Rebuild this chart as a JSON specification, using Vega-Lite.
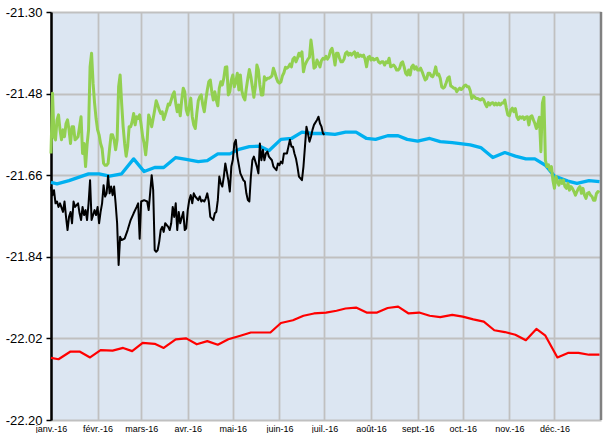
{
"$schema":"https://vega.github.io/schema/vega-lite/v6.json",
"width":550,"height":408,
"autosize":{"type":"none"},
"padding":{"left":51,"top":12,"right":2,"bottom":13},
"background":"white",
"config":{"view":{"fill":"#dce6f2","stroke":null}},
"datasets":{
"red":[
{"d":"2016-01-01","v":-22.063},{"d":"2016-01-06","v":-22.066},{"d":"2016-01-14","v":-22.049},{"d":"2016-01-20","v":-22.049},{"d":"2016-01-27","v":-22.062},{"d":"2016-02-03","v":-22.046},{"d":"2016-02-11","v":-22.047},{"d":"2016-02-18","v":-22.041},{"d":"2016-02-24","v":-22.048},{"d":"2016-03-02","v":-22.030},{"d":"2016-03-10","v":-22.032},{"d":"2016-03-16","v":-22.041},{"d":"2016-03-24","v":-22.022},{"d":"2016-03-31","v":-22.020},{"d":"2016-04-07","v":-22.033},{"d":"2016-04-14","v":-22.026},{"d":"2016-04-21","v":-22.034},{"d":"2016-04-28","v":-22.022},{"d":"2016-05-06","v":-22.014},{"d":"2016-05-13","v":-22.007},{"d":"2016-05-26","v":-22.007},{"d":"2016-06-02","v":-21.986},{"d":"2016-06-10","v":-21.980},{"d":"2016-06-17","v":-21.970},{"d":"2016-06-24","v":-21.965},{"d":"2016-07-02","v":-21.963},{"d":"2016-07-09","v":-21.959},{"d":"2016-07-15","v":-21.954},{"d":"2016-07-22","v":-21.952},{"d":"2016-07-29","v":-21.963},{"d":"2016-08-05","v":-21.963},{"d":"2016-08-12","v":-21.953},{"d":"2016-08-19","v":-21.950},{"d":"2016-08-26","v":-21.965},{"d":"2016-09-02","v":-21.963},{"d":"2016-09-09","v":-21.970},{"d":"2016-09-16","v":-21.973},{"d":"2016-09-24","v":-21.968},{"d":"2016-10-01","v":-21.972},{"d":"2016-10-08","v":-21.978},{"d":"2016-10-15","v":-21.983},{"d":"2016-10-22","v":-22.002},{"d":"2016-10-29","v":-22.006},{"d":"2016-11-05","v":-22.012},{"d":"2016-11-12","v":-22.024},{"d":"2016-11-19","v":-21.999},{"d":"2016-11-25","v":-22.014},{"d":"2016-12-03","v":-22.062},{"d":"2016-12-10","v":-22.052},{"d":"2016-12-17","v":-22.052},{"d":"2016-12-24","v":-22.056},{"d":"2016-12-31","v":-22.056}],
"cyan":[
{"d":"2016-01-01","v":-21.676},{"d":"2016-01-05","v":-21.679},{"d":"2016-01-13","v":-21.672},{"d":"2016-01-26","v":-21.657},{"d":"2016-02-02","v":-21.657},{"d":"2016-02-09","v":-21.662},{"d":"2016-02-17","v":-21.657},{"d":"2016-02-25","v":-21.624},{"d":"2016-03-03","v":-21.652},{"d":"2016-03-10","v":-21.643},{"d":"2016-03-16","v":-21.643},{"d":"2016-03-24","v":-21.621},{"d":"2016-03-31","v":-21.625},{"d":"2016-04-08","v":-21.630},{"d":"2016-04-14","v":-21.628},{"d":"2016-04-21","v":-21.613},{"d":"2016-04-29","v":-21.613},{"d":"2016-05-05","v":-21.603},{"d":"2016-05-12","v":-21.597},{"d":"2016-05-19","v":-21.596},{"d":"2016-05-25","v":-21.606},{"d":"2016-06-02","v":-21.581},{"d":"2016-06-09","v":-21.579},{"d":"2016-06-16","v":-21.565},{"d":"2016-06-23","v":-21.568},{"d":"2016-07-01","v":-21.568},{"d":"2016-07-08","v":-21.570},{"d":"2016-07-15","v":-21.565},{"d":"2016-07-22","v":-21.565},{"d":"2016-07-29","v":-21.579},{"d":"2016-08-04","v":-21.581},{"d":"2016-08-12","v":-21.573},{"d":"2016-08-19","v":-21.573},{"d":"2016-08-25","v":-21.581},{"d":"2016-09-01","v":-21.585},{"d":"2016-09-09","v":-21.579},{"d":"2016-09-16","v":-21.586},{"d":"2016-09-24","v":-21.588},{"d":"2016-10-06","v":-21.593},{"d":"2016-10-13","v":-21.599},{"d":"2016-10-21","v":-21.621},{"d":"2016-10-29","v":-21.610},{"d":"2016-11-05","v":-21.618},{"d":"2016-11-12","v":-21.624},{"d":"2016-11-18","v":-21.624},{"d":"2016-11-25","v":-21.638},{"d":"2016-12-01","v":-21.662},{"d":"2016-12-10","v":-21.673},{"d":"2016-12-16","v":-21.678},{"d":"2016-12-24","v":-21.672},{"d":"2016-12-31","v":-21.674}],
"black":[
{"d":"2016-01-01","v":-21.685},{"d":"2016-01-02","v":-21.704},{"d":"2016-01-03","v":-21.693},{"d":"2016-01-04","v":-21.722},{"d":"2016-01-05","v":-21.718},{"d":"2016-01-06","v":-21.730},{"d":"2016-01-07","v":-21.722},{"d":"2016-01-09","v":-21.741},{"d":"2016-01-10","v":-21.718},{"d":"2016-01-11","v":-21.752},{"d":"2016-01-12","v":-21.781},{"d":"2016-01-13","v":-21.752},{"d":"2016-01-14","v":-21.741},{"d":"2016-01-15","v":-21.766},{"d":"2016-01-16","v":-21.718},{"d":"2016-01-17","v":-21.730},{"d":"2016-01-19","v":-21.722},{"d":"2016-01-20","v":-21.744},{"d":"2016-01-21","v":-21.759},{"d":"2016-01-22","v":-21.730},{"d":"2016-01-23","v":-21.748},{"d":"2016-01-24","v":-21.737},{"d":"2016-01-25","v":-21.759},{"d":"2016-01-26","v":-21.722},{"d":"2016-01-27","v":-21.671},{"d":"2016-01-28","v":-21.759},{"d":"2016-01-30","v":-21.737},{"d":"2016-01-31","v":-21.748},{"d":"2016-02-01","v":-21.730},{"d":"2016-02-02","v":-21.766},{"d":"2016-02-03","v":-21.741},{"d":"2016-02-04","v":-21.722},{"d":"2016-02-05","v":-21.682},{"d":"2016-02-06","v":-21.707},{"d":"2016-02-07","v":-21.700},{"d":"2016-02-08","v":-21.661},{"d":"2016-02-09","v":-21.700},{"d":"2016-02-10","v":-21.685},{"d":"2016-02-11","v":-21.704},{"d":"2016-02-12","v":-21.685},{"d":"2016-02-13","v":-21.722},{"d":"2016-02-14","v":-21.766},{"d":"2016-02-15","v":-21.858},{"d":"2016-02-16","v":-21.796},{"d":"2016-02-17","v":-21.803},{"d":"2016-02-19","v":-21.800},{"d":"2016-02-21","v":-21.781},{"d":"2016-02-23","v":-21.759},{"d":"2016-02-25","v":-21.744},{"d":"2016-02-27","v":-21.730},{"d":"2016-02-28","v":-21.722},{"d":"2016-02-29","v":-21.800},{"d":"2016-03-01","v":-21.718},{"d":"2016-03-03","v":-21.715},{"d":"2016-03-05","v":-21.718},{"d":"2016-03-06","v":-21.737},{"d":"2016-03-08","v":-21.660},{"d":"2016-03-09","v":-21.693},{"d":"2016-03-10","v":-21.825},{"d":"2016-03-11","v":-21.829},{"d":"2016-03-12","v":-21.825},{"d":"2016-03-13","v":-21.807},{"d":"2016-03-14","v":-21.781},{"d":"2016-03-15","v":-21.774},{"d":"2016-03-16","v":-21.785},{"d":"2016-03-17","v":-21.766},{"d":"2016-03-19","v":-21.774},{"d":"2016-03-20","v":-21.781},{"d":"2016-03-21","v":-21.766},{"d":"2016-03-22","v":-21.730},{"d":"2016-03-23","v":-21.752},{"d":"2016-03-24","v":-21.722},{"d":"2016-03-25","v":-21.781},{"d":"2016-03-26","v":-21.741},{"d":"2016-03-27","v":-21.766},{"d":"2016-03-29","v":-21.741},{"d":"2016-03-30","v":-21.781},{"d":"2016-03-31","v":-21.777},{"d":"2016-04-01","v":-21.737},{"d":"2016-04-02","v":-21.715},{"d":"2016-04-03","v":-21.704},{"d":"2016-04-04","v":-21.722},{"d":"2016-04-05","v":-21.700},{"d":"2016-04-06","v":-21.707},{"d":"2016-04-08","v":-21.715},{"d":"2016-04-09","v":-21.707},{"d":"2016-04-10","v":-21.718},{"d":"2016-04-11","v":-21.715},{"d":"2016-04-12","v":-21.718},{"d":"2016-04-13","v":-21.711},{"d":"2016-04-14","v":-21.700},{"d":"2016-04-15","v":-21.718},{"d":"2016-04-16","v":-21.752},{"d":"2016-04-18","v":-21.759},{"d":"2016-04-19","v":-21.744},{"d":"2016-04-20","v":-21.741},{"d":"2016-04-21","v":-21.715},{"d":"2016-04-22","v":-21.663},{"d":"2016-04-23","v":-21.678},{"d":"2016-04-24","v":-21.685},{"d":"2016-04-25","v":-21.663},{"d":"2016-04-26","v":-21.634},{"d":"2016-04-28","v":-21.671},{"d":"2016-04-29","v":-21.696},{"d":"2016-04-30","v":-21.641},{"d":"2016-05-01","v":-21.626},{"d":"2016-05-02","v":-21.590},{"d":"2016-05-03","v":-21.582},{"d":"2016-05-04","v":-21.619},{"d":"2016-05-06","v":-21.656},{"d":"2016-05-07","v":-21.663},{"d":"2016-05-08","v":-21.671},{"d":"2016-05-09","v":-21.674},{"d":"2016-05-10","v":-21.700},{"d":"2016-05-11","v":-21.715},{"d":"2016-05-12","v":-21.718},{"d":"2016-05-13","v":-21.663},{"d":"2016-05-14","v":-21.627},{"d":"2016-05-15","v":-21.619},{"d":"2016-05-17","v":-21.641},{"d":"2016-05-18","v":-21.656},{"d":"2016-05-19","v":-21.590},{"d":"2016-05-20","v":-21.627},{"d":"2016-05-21","v":-21.604},{"d":"2016-05-22","v":-21.627},{"d":"2016-05-23","v":-21.612},{"d":"2016-05-24","v":-21.608},{"d":"2016-05-25","v":-21.619},{"d":"2016-05-27","v":-21.627},{"d":"2016-05-28","v":-21.641},{"d":"2016-05-29","v":-21.645},{"d":"2016-05-30","v":-21.649},{"d":"2016-05-31","v":-21.634},{"d":"2016-06-01","v":-21.638},{"d":"2016-06-02","v":-21.630},{"d":"2016-06-03","v":-21.634},{"d":"2016-06-04","v":-21.612},{"d":"2016-06-06","v":-21.612},{"d":"2016-06-07","v":-21.597},{"d":"2016-06-08","v":-21.582},{"d":"2016-06-09","v":-21.597},{"d":"2016-06-10","v":-21.597},{"d":"2016-06-11","v":-21.612},{"d":"2016-06-12","v":-21.623},{"d":"2016-06-13","v":-21.641},{"d":"2016-06-14","v":-21.663},{"d":"2016-06-16","v":-21.671},{"d":"2016-06-17","v":-21.641},{"d":"2016-06-18","v":-21.597},{"d":"2016-06-19","v":-21.553},{"d":"2016-06-20","v":-21.568},{"d":"2016-06-21","v":-21.586},{"d":"2016-06-22","v":-21.575},{"d":"2016-06-23","v":-21.560},{"d":"2016-06-24","v":-21.549},{"d":"2016-06-26","v":-21.538},{"d":"2016-06-27","v":-21.531},{"d":"2016-06-28","v":-21.546},{"d":"2016-06-29","v":-21.553},{"d":"2016-06-30","v":-21.568},{"d":"2016-07-01","v":-21.571}],
"green":[
{"d":"2016-01-01","v":-21.612},{"d":"2016-01-02","v":-21.479},{"d":"2016-01-03","v":-21.575},{"d":"2016-01-04","v":-21.582},{"d":"2016-01-05","v":-21.538},{"d":"2016-01-06","v":-21.527},{"d":"2016-01-07","v":-21.560},{"d":"2016-01-08","v":-21.582},{"d":"2016-01-09","v":-21.560},{"d":"2016-01-10","v":-21.575},{"d":"2016-01-11","v":-21.546},{"d":"2016-01-12","v":-21.538},{"d":"2016-01-13","v":-21.560},{"d":"2016-01-14","v":-21.590},{"d":"2016-01-15","v":-21.553},{"d":"2016-01-16","v":-21.553},{"d":"2016-01-17","v":-21.582},{"d":"2016-01-18","v":-21.579},{"d":"2016-01-19","v":-21.575},{"d":"2016-01-20","v":-21.553},{"d":"2016-01-21","v":-21.531},{"d":"2016-01-22","v":-21.612},{"d":"2016-01-23","v":-21.590},{"d":"2016-01-24","v":-21.641},{"d":"2016-01-25","v":-21.593},{"d":"2016-01-26","v":-21.560},{"d":"2016-01-27","v":-21.421},{"d":"2016-01-28","v":-21.391},{"d":"2016-01-29","v":-21.457},{"d":"2016-01-30","v":-21.501},{"d":"2016-01-31","v":-21.535},
{"d":"2016-02-01","v":-21.560},{"d":"2016-02-02","v":-21.571},{"d":"2016-02-03","v":-21.590},{"d":"2016-02-04","v":-21.601},{"d":"2016-02-05","v":-21.634},{"d":"2016-02-06","v":-21.638},{"d":"2016-02-07","v":-21.638},{"d":"2016-02-08","v":-21.634},{"d":"2016-02-09","v":-21.601},{"d":"2016-02-10","v":-21.571},{"d":"2016-02-11","v":-21.571},{"d":"2016-02-12","v":-21.582},{"d":"2016-02-13","v":-21.604},{"d":"2016-02-14","v":-21.582},{"d":"2016-02-15","v":-21.465},{"d":"2016-02-16","v":-21.439},{"d":"2016-02-17","v":-21.501},{"d":"2016-02-18","v":-21.553},{"d":"2016-02-19","v":-21.590},{"d":"2016-02-20","v":-21.618},{"d":"2016-02-21","v":-21.597},{"d":"2016-02-22","v":-21.553},{"d":"2016-02-23","v":-21.553},{"d":"2016-02-24","v":-21.542},{"d":"2016-02-25","v":-21.524},{"d":"2016-02-26","v":-21.549},{"d":"2016-02-27","v":-21.531},{"d":"2016-02-28","v":-21.535},{"d":"2016-02-29","v":-21.527},
{"d":"2016-03-01","v":-21.549},{"d":"2016-03-02","v":-21.575},{"d":"2016-03-03","v":-21.590},{"d":"2016-03-04","v":-21.615},{"d":"2016-03-05","v":-21.582},{"d":"2016-03-06","v":-21.527},{"d":"2016-03-07","v":-21.538},{"d":"2016-03-08","v":-21.553},{"d":"2016-03-09","v":-21.535},{"d":"2016-03-10","v":-21.516},{"d":"2016-03-11","v":-21.496},{"d":"2016-03-12","v":-21.505},{"d":"2016-03-13","v":-21.516},{"d":"2016-03-14","v":-21.524},{"d":"2016-03-15","v":-21.520},{"d":"2016-03-16","v":-21.537},{"d":"2016-03-17","v":-21.527},{"d":"2016-03-18","v":-21.516},{"d":"2016-03-19","v":-21.503},{"d":"2016-03-20","v":-21.505},{"d":"2016-03-21","v":-21.494},{"d":"2016-03-22","v":-21.483},{"d":"2016-03-23","v":-21.476},{"d":"2016-03-24","v":-21.501},{"d":"2016-03-25","v":-21.520},{"d":"2016-03-26","v":-21.505},{"d":"2016-03-27","v":-21.529},{"d":"2016-03-28","v":-21.494},{"d":"2016-03-29","v":-21.468},{"d":"2016-03-30","v":-21.476},{"d":"2016-03-31","v":-21.516},
{"d":"2016-04-01","v":-21.527},{"d":"2016-04-02","v":-21.509},{"d":"2016-04-03","v":-21.490},{"d":"2016-04-04","v":-21.531},{"d":"2016-04-05","v":-21.549},{"d":"2016-04-06","v":-21.557},{"d":"2016-04-07","v":-21.524},{"d":"2016-04-08","v":-21.496},{"d":"2016-04-09","v":-21.487},{"d":"2016-04-10","v":-21.483},{"d":"2016-04-11","v":-21.505},{"d":"2016-04-12","v":-21.520},{"d":"2016-04-13","v":-21.494},{"d":"2016-04-14","v":-21.472},{"d":"2016-04-15","v":-21.454},{"d":"2016-04-16","v":-21.450},{"d":"2016-04-17","v":-21.476},{"d":"2016-04-18","v":-21.494},{"d":"2016-04-19","v":-21.476},{"d":"2016-04-20","v":-21.494},{"d":"2016-04-21","v":-21.507},{"d":"2016-04-22","v":-21.468},{"d":"2016-04-23","v":-21.454},{"d":"2016-04-24","v":-21.461},{"d":"2016-04-25","v":-21.446},{"d":"2016-04-26","v":-21.422},{"d":"2016-04-27","v":-21.421},{"d":"2016-04-28","v":-21.483},{"d":"2016-04-29","v":-21.476},{"d":"2016-04-30","v":-21.450},
{"d":"2016-05-01","v":-21.439},{"d":"2016-05-02","v":-21.465},{"d":"2016-05-03","v":-21.454},{"d":"2016-05-04","v":-21.435},{"d":"2016-05-05","v":-21.472},{"d":"2016-05-06","v":-21.439},{"d":"2016-05-07","v":-21.474},{"d":"2016-05-08","v":-21.487},{"d":"2016-05-09","v":-21.494},{"d":"2016-05-10","v":-21.468},{"d":"2016-05-11","v":-21.446},{"d":"2016-05-12","v":-21.427},{"d":"2016-05-13","v":-21.443},{"d":"2016-05-14","v":-21.465},{"d":"2016-05-15","v":-21.488},{"d":"2016-05-16","v":-21.465},{"d":"2016-05-17","v":-21.417},{"d":"2016-05-18","v":-21.428},{"d":"2016-05-19","v":-21.461},{"d":"2016-05-20","v":-21.483},{"d":"2016-05-21","v":-21.483},{"d":"2016-05-22","v":-21.443},{"d":"2016-05-23","v":-21.450},{"d":"2016-05-24","v":-21.446},{"d":"2016-05-25","v":-21.446},{"d":"2016-05-26","v":-21.444},{"d":"2016-05-27","v":-21.441},{"d":"2016-05-28","v":-21.424},{"d":"2016-05-29","v":-21.434},{"d":"2016-05-30","v":-21.446},{"d":"2016-05-31","v":-21.454},
{"d":"2016-06-01","v":-21.457},{"d":"2016-06-02","v":-21.454},{"d":"2016-06-03","v":-21.441},{"d":"2016-06-04","v":-21.434},{"d":"2016-06-05","v":-21.422},{"d":"2016-06-06","v":-21.424},{"d":"2016-06-07","v":-21.421},{"d":"2016-06-08","v":-21.415},{"d":"2016-06-09","v":-21.421},{"d":"2016-06-10","v":-21.404},{"d":"2016-06-11","v":-21.400},{"d":"2016-06-12","v":-21.410},{"d":"2016-06-13","v":-21.402},{"d":"2016-06-14","v":-21.391},{"d":"2016-06-15","v":-21.397},{"d":"2016-06-16","v":-21.388},{"d":"2016-06-17","v":-21.432},{"d":"2016-06-18","v":-21.417},{"d":"2016-06-19","v":-21.410},{"d":"2016-06-20","v":-21.404},{"d":"2016-06-21","v":-21.400},{"d":"2016-06-22","v":-21.362},{"d":"2016-06-23","v":-21.388},{"d":"2016-06-24","v":-21.424},{"d":"2016-06-25","v":-21.421},{"d":"2016-06-26","v":-21.406},{"d":"2016-06-27","v":-21.413},{"d":"2016-06-28","v":-21.421},{"d":"2016-06-29","v":-21.407},{"d":"2016-06-30","v":-21.402},
{"d":"2016-07-01","v":-21.404},{"d":"2016-07-02","v":-21.398},{"d":"2016-07-03","v":-21.404},{"d":"2016-07-04","v":-21.398},{"d":"2016-07-05","v":-21.385},{"d":"2016-07-06","v":-21.380},{"d":"2016-07-07","v":-21.395},{"d":"2016-07-08","v":-21.417},{"d":"2016-07-09","v":-21.391},{"d":"2016-07-10","v":-21.391},{"d":"2016-07-11","v":-21.402},{"d":"2016-07-12","v":-21.410},{"d":"2016-07-13","v":-21.410},{"d":"2016-07-14","v":-21.404},{"d":"2016-07-15","v":-21.391},{"d":"2016-07-16","v":-21.388},{"d":"2016-07-17","v":-21.395},{"d":"2016-07-18","v":-21.391},{"d":"2016-07-19","v":-21.395},{"d":"2016-07-20","v":-21.391},{"d":"2016-07-21","v":-21.388},{"d":"2016-07-22","v":-21.400},{"d":"2016-07-23","v":-21.391},{"d":"2016-07-24","v":-21.398},{"d":"2016-07-25","v":-21.395},{"d":"2016-07-26","v":-21.398},{"d":"2016-07-27","v":-21.395},{"d":"2016-07-28","v":-21.404},{"d":"2016-07-29","v":-21.421},{"d":"2016-07-30","v":-21.400},{"d":"2016-07-31","v":-21.398},
{"d":"2016-08-01","v":-21.406},{"d":"2016-08-02","v":-21.402},{"d":"2016-08-03","v":-21.406},{"d":"2016-08-04","v":-21.404},{"d":"2016-08-05","v":-21.402},{"d":"2016-08-06","v":-21.410},{"d":"2016-08-07","v":-21.413},{"d":"2016-08-08","v":-21.410},{"d":"2016-08-09","v":-21.410},{"d":"2016-08-10","v":-21.417},{"d":"2016-08-11","v":-21.410},{"d":"2016-08-12","v":-21.412},{"d":"2016-08-13","v":-21.402},{"d":"2016-08-14","v":-21.421},{"d":"2016-08-15","v":-21.419},{"d":"2016-08-16","v":-21.417},{"d":"2016-08-17","v":-21.421},{"d":"2016-08-18","v":-21.428},{"d":"2016-08-19","v":-21.428},{"d":"2016-08-20","v":-21.424},{"d":"2016-08-21","v":-21.413},{"d":"2016-08-22","v":-21.410},{"d":"2016-08-23","v":-21.421},{"d":"2016-08-24","v":-21.435},{"d":"2016-08-25","v":-21.439},{"d":"2016-08-26","v":-21.428},{"d":"2016-08-27","v":-21.439},{"d":"2016-08-28","v":-21.421},{"d":"2016-08-29","v":-21.417},{"d":"2016-08-30","v":-21.426},{"d":"2016-08-31","v":-21.421},
{"d":"2016-09-01","v":-21.428},{"d":"2016-09-02","v":-21.428},{"d":"2016-09-03","v":-21.424},{"d":"2016-09-04","v":-21.432},{"d":"2016-09-05","v":-21.441},{"d":"2016-09-06","v":-21.450},{"d":"2016-09-07","v":-21.447},{"d":"2016-09-08","v":-21.435},{"d":"2016-09-09","v":-21.435},{"d":"2016-09-10","v":-21.441},{"d":"2016-09-11","v":-21.443},{"d":"2016-09-12","v":-21.435},{"d":"2016-09-13","v":-21.421},{"d":"2016-09-14","v":-21.439},{"d":"2016-09-15","v":-21.437},{"d":"2016-09-16","v":-21.446},{"d":"2016-09-17","v":-21.465},{"d":"2016-09-18","v":-21.468},{"d":"2016-09-19","v":-21.465},{"d":"2016-09-20","v":-21.456},{"d":"2016-09-21","v":-21.446},{"d":"2016-09-22","v":-21.443},{"d":"2016-09-23","v":-21.463},{"d":"2016-09-24","v":-21.465},{"d":"2016-09-25","v":-21.468},{"d":"2016-09-26","v":-21.468},{"d":"2016-09-27","v":-21.476},{"d":"2016-09-28","v":-21.471},{"d":"2016-09-29","v":-21.468},{"d":"2016-09-30","v":-21.471},
{"d":"2016-10-01","v":-21.468},{"d":"2016-10-02","v":-21.463},{"d":"2016-10-03","v":-21.461},{"d":"2016-10-04","v":-21.465},{"d":"2016-10-05","v":-21.465},{"d":"2016-10-06","v":-21.474},{"d":"2016-10-07","v":-21.491},{"d":"2016-10-08","v":-21.485},{"d":"2016-10-09","v":-21.488},{"d":"2016-10-10","v":-21.491},{"d":"2016-10-11","v":-21.491},{"d":"2016-10-12","v":-21.493},{"d":"2016-10-13","v":-21.494},{"d":"2016-10-14","v":-21.491},{"d":"2016-10-15","v":-21.494},{"d":"2016-10-16","v":-21.503},{"d":"2016-10-17","v":-21.509},{"d":"2016-10-18","v":-21.500},{"d":"2016-10-19","v":-21.505},{"d":"2016-10-20","v":-21.501},{"d":"2016-10-21","v":-21.500},{"d":"2016-10-22","v":-21.505},{"d":"2016-10-23","v":-21.501},{"d":"2016-10-24","v":-21.505},{"d":"2016-10-25","v":-21.501},{"d":"2016-10-26","v":-21.505},{"d":"2016-10-27","v":-21.501},{"d":"2016-10-28","v":-21.501},{"d":"2016-10-29","v":-21.494},{"d":"2016-10-30","v":-21.512},{"d":"2016-10-31","v":-21.527},
{"d":"2016-11-01","v":-21.529},{"d":"2016-11-02","v":-21.516},{"d":"2016-11-03","v":-21.512},{"d":"2016-11-04","v":-21.520},{"d":"2016-11-05","v":-21.513},{"d":"2016-11-06","v":-21.531},{"d":"2016-11-07","v":-21.537},{"d":"2016-11-08","v":-21.531},{"d":"2016-11-09","v":-21.534},{"d":"2016-11-10","v":-21.531},{"d":"2016-11-11","v":-21.537},{"d":"2016-11-12","v":-21.532},{"d":"2016-11-13","v":-21.531},{"d":"2016-11-14","v":-21.549},{"d":"2016-11-15","v":-21.531},{"d":"2016-11-16","v":-21.529},{"d":"2016-11-17","v":-21.538},{"d":"2016-11-18","v":-21.546},{"d":"2016-11-19","v":-21.557},{"d":"2016-11-20","v":-21.546},{"d":"2016-11-21","v":-21.532},{"d":"2016-11-22","v":-21.608},{"d":"2016-11-23","v":-21.501},{"d":"2016-11-24","v":-21.488},{"d":"2016-11-25","v":-21.627},{"d":"2016-11-26","v":-21.641},{"d":"2016-11-27","v":-21.637},{"d":"2016-11-28","v":-21.649},{"d":"2016-11-29","v":-21.641},{"d":"2016-11-30","v":-21.671},
{"d":"2016-12-01","v":-21.689},{"d":"2016-12-02","v":-21.663},{"d":"2016-12-03","v":-21.674},{"d":"2016-12-04","v":-21.682},{"d":"2016-12-05","v":-21.671},{"d":"2016-12-06","v":-21.678},{"d":"2016-12-07","v":-21.671},{"d":"2016-12-08","v":-21.685},{"d":"2016-12-09","v":-21.689},{"d":"2016-12-10","v":-21.678},{"d":"2016-12-11","v":-21.693},{"d":"2016-12-12","v":-21.685},{"d":"2016-12-13","v":-21.689},{"d":"2016-12-14","v":-21.696},{"d":"2016-12-15","v":-21.704},{"d":"2016-12-16","v":-21.696},{"d":"2016-12-17","v":-21.689},{"d":"2016-12-18","v":-21.685},{"d":"2016-12-19","v":-21.700},{"d":"2016-12-20","v":-21.689},{"d":"2016-12-21","v":-21.704},{"d":"2016-12-22","v":-21.711},{"d":"2016-12-23","v":-21.700},{"d":"2016-12-24","v":-21.698},{"d":"2016-12-25","v":-21.704},{"d":"2016-12-26","v":-21.707},{"d":"2016-12-27","v":-21.715},{"d":"2016-12-28","v":-21.715},{"d":"2016-12-29","v":-21.700},{"d":"2016-12-30","v":-21.696},{"d":"2016-12-31","v":-21.698}],
"edge":[{"d":"2017-01-01","v":-22.2,"v2":-21.3}]
},
"encoding":{
"x":{"field":"d","type":"temporal","title":null,
"scale":{"type":"utc","domain":[{"year":2016,"month":1,"date":1,"utc":true},{"year":2017,"month":1,"date":1,"utc":true}]},
"axis":{"values":[{"year":2016,"month":1,"date":1,"utc":true},{"year":2016,"month":2,"date":1,"utc":true},{"year":2016,"month":3,"date":1,"utc":true},{"year":2016,"month":4,"date":1,"utc":true},{"year":2016,"month":5,"date":1,"utc":true},{"year":2016,"month":6,"date":1,"utc":true},{"year":2016,"month":7,"date":1,"utc":true},{"year":2016,"month":8,"date":1,"utc":true},{"year":2016,"month":9,"date":1,"utc":true},{"year":2016,"month":10,"date":1,"utc":true},{"year":2016,"month":11,"date":1,"utc":true},{"year":2016,"month":12,"date":1,"utc":true}],
"labelExpr":"['janv.','févr.','mars','avr.','mai','juin','juil.','août','sept.','oct.','nov.','déc.'][utcmonth(datum.value)] + '-16'",
"domain":false,"ticks":false,"grid":true,"gridColor":"#c0c0c0","gridWidth":1.8,
"labelFont":"Liberation Sans Narrow, Liberation Sans, Arial","labelFontSize":9,"labelColor":"#000000",
"labelPadding":4,"labelBaseline":"top","labelFlush":false,"labelOverlap":false}},
"y":{"field":"v","type":"quantitative","title":null,
"scale":{"domain":[-22.2,-21.3],"nice":false,"zero":false},
"axis":{"values":[-22.2,-22.02,-21.84,-21.66,-21.48,-21.3],
"labelExpr":"'-' + format(abs(datum.value), '.2f')",
"domain":true,"domainColor":"#000000","domainWidth":2.5,
"ticks":true,"tickColor":"#000000","tickSize":5,"tickWidth":1.5,
"grid":true,"gridColor":"#c0c0c0","gridWidth":1.8,
"labelFont":"Liberation Sans Narrow, Liberation Sans, Arial","labelFontSize":13,"labelColor":"#000000",
"labelPadding":4,"labelFlush":false,"labelOverlap":false}}
},
"layer":[
{"data":{"name":"edge"},"mark":{"type":"rule","color":"#808080","strokeWidth":2.5},"encoding":{"y2":{"field":"v2"}}},
{"data":{"name":"red"},"mark":{"type":"line","color":"#ff0000","strokeWidth":2.2,"strokeJoin":"round"},"encoding":{}},
{"data":{"name":"cyan"},"mark":{"type":"line","color":"#00b0f0","strokeWidth":3.3,"strokeJoin":"round"},"encoding":{}},
{"data":{"name":"black"},"mark":{"type":"line","color":"#000000","strokeWidth":2,"strokeJoin":"round"},"encoding":{}},
{"data":{"name":"green"},"mark":{"type":"line","color":"#92d050","strokeWidth":3,"strokeJoin":"round"},"encoding":{}}
]
}
